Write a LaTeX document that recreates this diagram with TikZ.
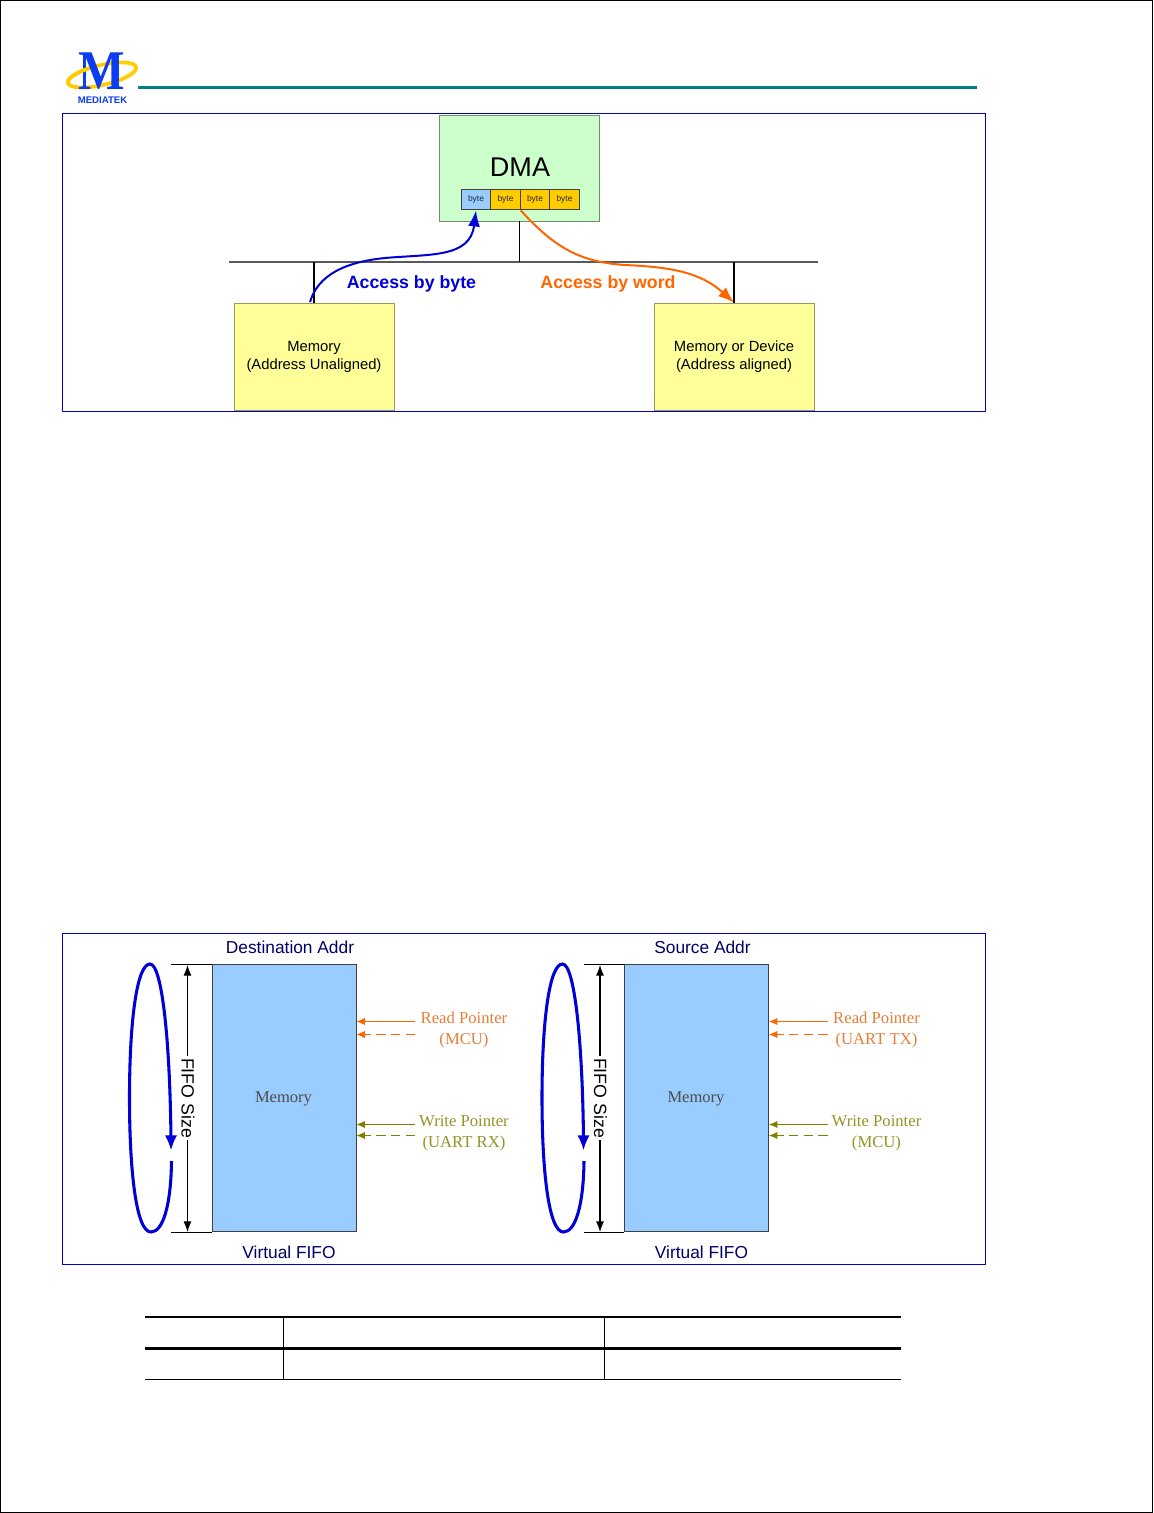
\documentclass[tikz,border=0pt]{standalone}
\usepackage{fontspec}
\setmainfont{Liberation Sans}
\newfontfamily\serifface{Liberation Serif}
\usetikzlibrary{arrows.meta}
\definecolor{framecol}{HTML}{0000CC}
\definecolor{tealcol}{HTML}{008080}
\definecolor{logoblue}{HTML}{0A3CF0}
\definecolor{logoyellow}{HTML}{FFCC00}
\definecolor{orangecol}{HTML}{FF6600}
\definecolor{olivecol}{HTML}{808000}
\definecolor{memblue}{HTML}{99CCFF}
\definecolor{boxyellow}{HTML}{FFFF99}
\definecolor{boxgreen}{HTML}{CCFFCC}
\tikzset{
    bytebox/.style={draw=black!75,line width=0.9pt,minimum width=22pt,minimum height=15.5pt,inner sep=0pt,text=black!85,font=\fontsize{6.3}{7}\selectfont},
    yellowbox/.style={draw=black!40!boxyellow,fill=boxyellow,minimum width=120pt,minimum height=80.5pt,inner sep=0pt,align=center,font=\fontsize{11.1}{13.5}\selectfont},
    memorybox/.style={draw=black!75,fill=memblue,minimum width=108pt,minimum height=200.5pt,inner sep=0pt},
    title/.style={inner sep=0pt,text=blue!40!black,font=\fontsize{13}{15}\selectfont},
    ptrlabel/.style={inner sep=0pt,align=center,font=\serifface\fontsize{12.5}{15.5}\selectfont},
}
\begin{document}
\begin{tikzpicture}[x=0.75pt,y=-0.75pt]
    \useasboundingbox (0,0) rectangle (1153,1513);
    \draw[black,line width=0.9pt] (0.5,0.5) rectangle (1152.5,1512.5);
    % logo and header
    \draw[logoyellow,line width=2.8pt,rotate around={13:(102,75)}] (102,75) ellipse [x radius=35, y radius=10];
    \node (logoM) at (102,71) [inner sep=0pt,text=logoblue,font=\serifface\bfseries\fontsize{42}{42}\selectfont,xscale=0.88] {M};
    \draw[logoyellow,line width=2.8pt,rotate around={13:(102,75)}] (67,75) arc [start angle=180, delta angle=70, x radius=35, y radius=10];
    \node (logoText) at (102.5,100) [inner sep=0pt,text=logoblue,font=\bfseries\fontsize{7.2}{8}\selectfont] {MEDIATEK};
    \draw[tealcol,line width=2.2pt] (138,87.5)--(977,87.5);
    % top figure
    \draw[framecol,line width=0.9pt] (62.5,113.5) rectangle (985.5,411.5);
    \node[draw=black!45!boxgreen,fill=boxgreen,minimum width=120pt,minimum height=79.5pt,inner sep=0pt] (dma) at (519.5,168) {};
    \node[inner sep=0pt,font=\fontsize{20.3}{24}\selectfont] (dmaText) at (520,167.5) {DMA};
    \node[bytebox,fill=memblue] (byteA) at (476,199.5) {byte};
    \node[bytebox,fill=logoyellow] (byteB) at (505.5,199.5) {byte};
    \node[bytebox,fill=logoyellow] (byteC) at (535,199.5) {byte};
    \node[bytebox,fill=logoyellow] (byteD) at (564.5,199.5) {byte};
    \node[yellowbox] (memA) at (314,356.5) {Memory\\(Address Unaligned)};
    \node[yellowbox] (memB) at (734,356.5) {Memory or Device\\(Address aligned)};
    \coordinate (busL) at (229,262);
    \coordinate (busR) at (818,262);
    \coordinate (blueStart) at (310,302);
    \draw[black!65,line width=1pt] (busL)--(busR);
    \draw[black,line width=1pt] (dma.south)--(dma.south |- busL);
    \draw[black,line width=1pt] (memA.north)--(memA.north |- busL);
    \draw[black,line width=1pt] (memB.north)--(memB.north |- busL);
    \draw[blue!85!black,line width=1.5pt,-{Latex[length=12pt,width=9pt]}] (blueStart) .. controls (318,275) and (345,262) .. (385,258) .. controls (430,254) and (470,258) .. (byteA.south);
    \draw[orangecol,line width=1.5pt,-{Latex[length=12pt,width=9pt]}] (byteB.south east) .. controls (555,248) and (580,262) .. (625,265) .. controls (670,267) and (700,272) .. (memB.north);
    \node[inner sep=0pt,text=blue!85!black,font=\bfseries\fontsize{13.3}{15}\selectfont] (byteLabel) at (411.5,284) {Access by byte};
    \node[inner sep=0pt,text=orangecol,font=\bfseries\fontsize{13.3}{15}\selectfont] (wordLabel) at (608,284) {Access by word};
    % bottom figure
    \draw[framecol,line width=0.9pt] (62.5,933.5) rectangle (985.5,1264.5);
    \foreach \n/\dx/\addr/\rdname/\wrname in {L/0/Destination Addr/(MCU)/(UART RX),R/412.5/Source Addr/(UART TX)/(MCU)}{
        \begin{scope}[xshift=\dx*0.75pt]
            \node[title] (addr\n) at (290,947.5) {\addr};
            \node[title] (fifo\n) at (289,1252) {Virtual FIFO};
            \node[memorybox] (mem\n) at (284,1097.5) {};
            \node[inner sep=0pt,text=black!70,font=\serifface\fontsize{12.4}{15}\selectfont] (memText\n) at (283.5,1099) {Memory};
            \coordinate (extTop\n) at (171,964.5);
            \coordinate (extBot\n) at (171,1232.5);
            \draw[black,line width=0.7pt] (extTop\n)--(mem\n.west |- extTop\n);
            \draw[black,line width=0.7pt] (extBot\n)--(mem\n.west |- extBot\n);
            \draw[black,line width=0.8pt,{Latex[length=8pt,width=6pt]}-{Latex[length=8pt,width=6pt]}] (187.5,965)--(187.5,1232);
            \node[rotate=-90,fill=white,inner sep=1.5pt,font=\fontsize{13.3}{14}\selectfont] (size\n) at (188,1098) {FIFO Size};
            \draw[blue!85!black,line width=2.3pt] (171.5,1161) .. controls (171,1205) and (163,1232) .. (151,1232) .. controls (136,1232) and (129.5,1170) .. (129.5,1098) .. controls (129.5,1020) and (137,964) .. (150,964) .. controls (162,964) and (170,1040) .. (171,1140);
            \draw[blue!85!black,line width=1pt,{Latex[length=11pt,width=9pt]}-] (171,1150)--(171,1138);
            % pointers
            \coordinate (rdA\n) at (415,1021.5);
            \coordinate (rdB\n) at (415,1034.5);
            \coordinate (wrA\n) at (415,1124.5);
            \coordinate (wrB\n) at (415,1135.5);
            \draw[orangecol,line width=0.8pt,-{Latex[length=6.5pt,width=5.5pt]}] (rdA\n)--(mem\n.east |- rdA\n);
            \draw[orangecol,line width=0.8pt,dashed,dash pattern=on 7pt off 4pt,-{Latex[length=6.5pt,width=5.5pt]}] (rdB\n)--(mem\n.east |- rdB\n);
            \draw[olivecol,line width=0.8pt,-{Latex[length=6.5pt,width=5.5pt]}] (wrA\n)--(mem\n.east |- wrA\n);
            \draw[olivecol,line width=0.8pt,dashed,dash pattern=on 7pt off 4pt,-{Latex[length=6.5pt,width=5.5pt]}] (wrB\n)--(mem\n.east |- wrB\n);
            \node[ptrlabel,text=orangecol!75!white!90!black] (rdText\n) at (464,1030) {Read Pointer\\\rdname};
            \node[ptrlabel,text=olivecol!85!white] (wrText\n) at (464,1133) {Write Pointer\\\wrname};
        \end{scope}
    }
    % table rules
    \draw[black,line width=1.5pt] (145,1316.5)--(901,1316.5);
    \draw[black,line width=2.2pt] (145,1348.5)--(901,1348.5);
    \draw[black,line width=0.7pt] (145,1379.5)--(901,1379.5);
    \draw[black,line width=0.7pt] (283.5,1316.5)--(283.5,1379.5);
    \draw[black,line width=0.7pt] (604.5,1316.5)--(604.5,1379.5);
\end{tikzpicture}
\end{document}
